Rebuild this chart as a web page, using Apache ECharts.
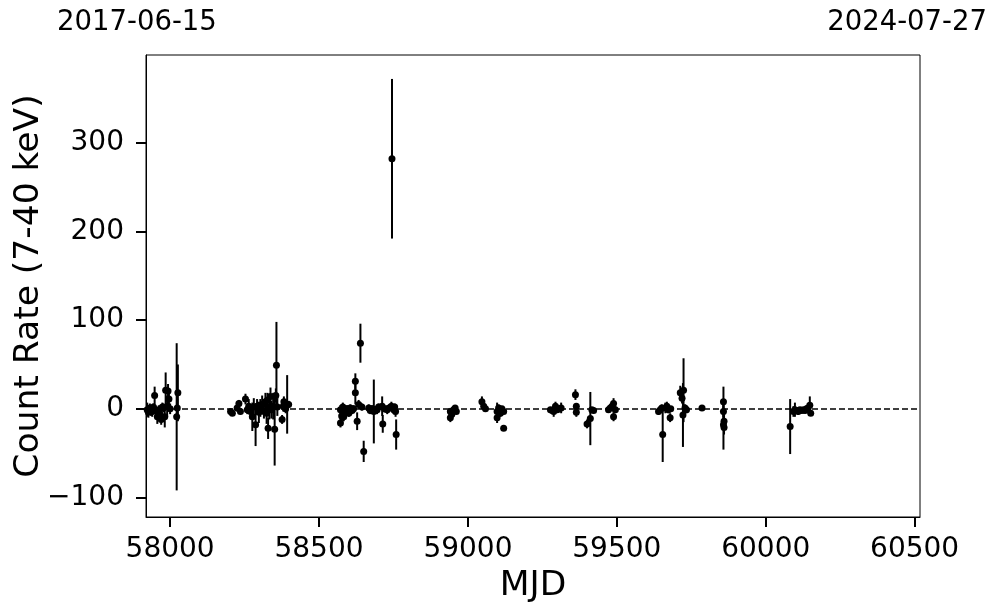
<!DOCTYPE html>
<html>
<head>
<meta charset="utf-8">
<script src="https://cdn.jsdelivr.net/npm/echarts@6/dist/echarts.min.js"></script>
<style>
html,body{margin:0;padding:0;background:#fff;}
#chart{width:997px;height:613px;}
</style>
</head>
<body>
<div id="chart"></div>
<script>
var xTicks = [58000, 58500, 59000, 59500, 60000, 60500];
var yTicks = [-100, 0, 100, 200, 300];
var startDate = '2017-06-15';
var endDate = '2024-07-27';

var mjd = [
57923,57927,57932,57936,57940,57944,57948,57952,57957,57962,57966,57970,57974,57977,57982,57985,57990,57993,57996,58000,58022,58024,58026,
58203,58209,58225,58231,58236,58253,58259,58264,58270,58276,58281,58287,58292,58298,58303,58309,58315,58320,58324,58327,58329,58333,58337,58340,58346,58351,58355,58357,58360,58376,58380,58382,58388,58393,58398,
58572,58572,58576,58580,58583,58588,58594,58600,58605,58611,58616,58622,58622,58628,58633,58639,58644,58650,58667,58672,58678,58684,58690,58695,58700,58712,58714,58720,58729,58735,58743,58745,58751,58754,58757,58759,
58941,58941,58946,58952,58957,58961,59047,59053,59059,59098,59098,59103,59109,59114,59120,59120,
59277,59283,59288,59294,59300,59305,59313,59361,59364,59364,59400,59411,59416,59422,59472,59478,59484,59489,59489,59495,
59640,59646,59651,59654,59663,59668,59673,59679,59681,59713,59719,59722,59724,59729,59734,59786,59858,59858,59860,59858,59860,
60082,60093,60098,60104,60109,60115,60121,60127,60132,60137,60142,60148,60151
];
var rate = [
-1,-4,1,-3,-3,2,15,-2,-9,-1,-6,-12,2,1,-9,21,3,20,11,0,-9,1,18,
-3,-5,1,6,-3,11,-1,3,-3,-9,2,-18,3,-4,1,5,-3,8,-5,10,-22,2,14,-1,3,-23,15,49,2,-12,3,8,0,5,5,
-1,-16,-8,2,-9,-3,0,-5,1,-2,0,31,18,-14,5,74,2,-48,1,-2,0,-3,-1,-1,2,3,-17,0,-1,1,3,282,-1,2,-3,-29,
-3,-10,-6,-1,1,-3,8,3,0,-3,-10,1,-5,0,-3,-22,
-1,-2,-3,3,-1,0,1,16,3,-4,-17,-11,-1,-2,-1,1,3,6,-9,-1,
-3,-1,1,-29,1,3,-1,-10,0,18,12,-7,21,1,-1,1,8,-3,-14,-18,-21,
-20,-3,-1,-2,-3,-1,-2,-1,-2,0,1,4,-5
];
var rateErr = [
8,6,5,5,6,4,10,5,8,5,6,6,5,5,12,20,12,8,8,6,83,10,32,
2,2,4,4,3,6,5,8,8,16,10,24,8,12,10,10,8,10,12,8,12,14,10,10,15,41,8,49,10,5,6,6,5,33,4,
5,5,6,5,5,4,4,4,4,4,4,9,13,10,5,22,4,12,4,4,4,36,4,5,4,11,10,4,5,4,5,90,5,4,6,17,
4,5,4,4,3,3,6,4,3,10,6,4,4,3,3,3,
3,3,6,5,3,3,6,6,3,5,5,30,3,3,3,3,4,6,5,4,
4,4,4,31,6,5,4,5,3,8,6,36,36,4,4,2,17,12,8,28,8,
31,6,8,4,4,3,3,3,3,3,4,10,3
];

var pts = [];
for (var i = 0; i < mjd.length; i++) pts.push([mjd[i], rate[i], rateErr[i]]);

var FONT = 'DejaVu Sans';
var chart = echarts.init(document.getElementById('chart'), null, {renderer: 'canvas'});
chart.setOption({
  animation: false,
  backgroundColor: '#fff',
  grid: {left: 146, top: 55, right: 77, bottom: 96, containLabel: false, outerBoundsMode: 'none',
    show: true, borderColor: '#000', borderWidth: 1, backgroundColor: 'transparent'},
  xAxis: {
    type: 'value', min: 57919, max: 60518,
    axisLine: {show: true, onZero: false, lineStyle: {color: '#000', width: 1}},
    splitLine: {show: false},
    axisTick: {show: true, customValues: xTicks, length: 10, inside: false, lineStyle: {color: '#000', width: 2}},
    axisLabel: {customValues: xTicks, fontSize: 28, color: '#000', fontFamily: FONT, margin: 19,
      formatter: function (v) { return String(v); }},
    name: 'MJD', nameLocation: 'middle', nameGap: 52, nameMoveOverlap: false,
    nameTextStyle: {fontSize: 34.5, color: '#000', fontFamily: FONT}
  },
  yAxis: {
    type: 'value', min: -122, max: 399,
    axisLine: {show: true, onZero: false, lineStyle: {color: '#000', width: 1}},
    splitLine: {show: false},
    axisTick: {show: true, customValues: yTicks, length: 10, inside: false, lineStyle: {color: '#000', width: 2}},
    axisLabel: {customValues: yTicks, fontSize: 28, color: '#000', fontFamily: FONT, margin: 22,
      formatter: function (v) { return String(v).replace('-', '\u2212'); }},
    name: 'Count Rate (7-40 keV)', nameLocation: 'middle', nameGap: 99, nameMoveOverlap: false,
    nameTextStyle: {fontSize: 34.5, color: '#000', fontFamily: FONT}
  },
  graphic: [
    {type: 'text', left: 57, top: 9, style: {text: startDate, fontSize: 27.5, fontFamily: FONT, fill: '#000'}},
    {type: 'text', right: 10, top: 9, style: {text: endDate, fontSize: 27.5, fontFamily: FONT, fill: '#000'}}
  ],
  series: [
    {
      type: 'custom',
      data: pts,
      encode: {x: 0, y: 1},
      clip: true,
      z: 2,
      renderItem: function (params, api) {
        var x = api.value(0), y = api.value(1), e = api.value(2);
        var a = api.coord([x, y + e]), b = api.coord([x, y - e]);
        return {type: 'line', shape: {x1: a[0], y1: a[1], x2: b[0], y2: b[1]},
          style: {stroke: '#000', lineWidth: 2}};
      },
      markLine: {
        silent: true, symbol: 'none', label: {show: false},
        lineStyle: {color: '#000', type: [6, 3], width: 1.5},
        data: [{yAxis: 0}]
      }
    },
    {
      type: 'scatter',
      data: pts,
      encode: {x: 0, y: 1},
      symbol: 'circle', symbolSize: 7,
      itemStyle: {color: '#000', opacity: 1},
      z: 3
    }
  ]
});
</script>
</body>
</html>
